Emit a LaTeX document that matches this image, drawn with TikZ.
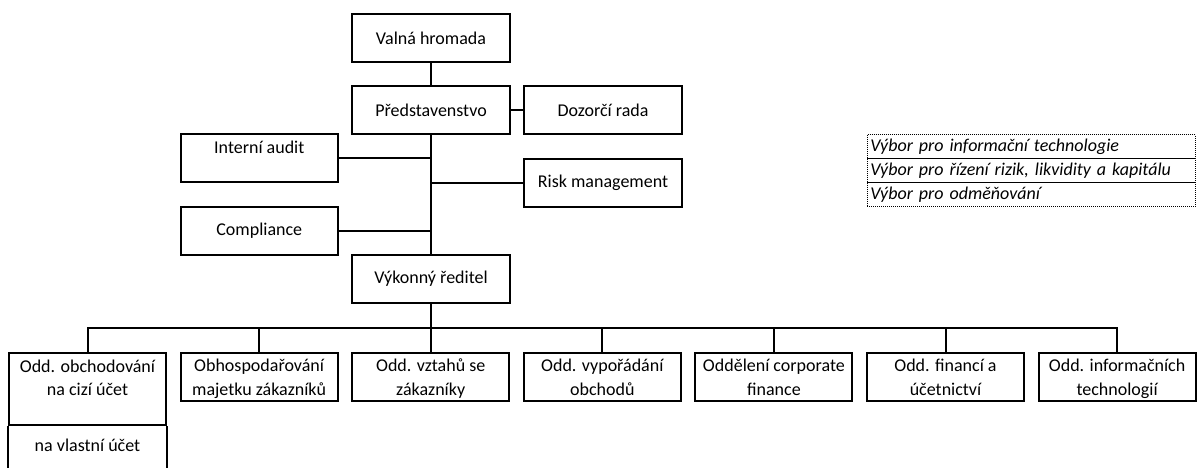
\documentclass[tikz,border=0pt]{standalone}
\usepackage{fontspec}
\setmainfont{Carlito}
\begin{document}
\begin{tikzpicture}[x=1pt,y=-1pt,
  orgbox/.style={draw=black, line width=2pt, minimum width=157pt, minimum height=48pt, inner sep=2pt, align=center, font=\fontsize{18}{23.5}\selectfont},
  deptbox/.style={orgbox, anchor=north, text height=40.3pt, text depth=3.7pt},
  plain/.style={inner sep=0pt, align=center, font=\fontsize{18}{23.5}\selectfont},
  conn/.style={line width=2pt},
  legrow/.style={draw=black, line width=1.1pt, dash pattern=on 1pt off 1pt, minimum height=24pt, text width=322pt, inner xsep=3pt, inner ysep=0pt, align=left, anchor=north west, font=\fontsize{18}{22}\selectfont\itshape}]
\useasboundingbox (0,0) rectangle (1197,468);
\clip (0,0) rectangle (1197,468);
\fill[white] (0,0) rectangle (1197,468);

% top structure
\node[orgbox, minimum width=158pt] (vh) at (431,38) {Valná hromada};
\node[orgbox, minimum width=158pt] (pr) at (431,110) {Představenstvo};
\node[orgbox, minimum width=158pt] (dr) at (603,110) {Dozorčí rada};
\node[orgbox, minimum width=156.7pt] (ia) at (259.3,158.3) {};
\node[plain] (iat) at (259.3,147.5) {Interní audit};
\node[orgbox, minimum width=158pt] (rm) at (603,183) {Risk management};
\node[orgbox, minimum width=156.7pt] (co) at (259.3,230.5) {Compliance};
\node[orgbox, minimum width=158pt] (vr) at (431,279.2) {Výkonný ředitel};

\draw[conn] (vh.south) -- (pr.north);
\draw[conn] (pr.east) -- (dr.west);
\draw[conn] (pr.south) -- (vr.north);
\draw[conn] (ia.east) -- (ia.east -| pr.south);
\draw[conn] (rm.west) -- (rm.west -| pr.south);
\draw[conn] (co.east) -- (co.east -| pr.south);

% departments
\coordinate (bus) at (431,328.3);
\node[orgbox, minimum height=72.6pt, anchor=north] (b1) at (87.5,351.7) {};
\node[plain] (b1t) at (87.5,378) {Odd. obchodování\\na cizí účet};
\node[plain] (b1v) at (87.5,445) {na vlastní účet};
\coordinate (b1l) at (9,480);
\coordinate (b1r) at (166,480);
\draw[conn] (b1.south west) -- (b1.south west |- b1l);
\draw[conn] (b1.south east) -- (b1.south east |- b1r);

\node[deptbox] (b2) at (259.1,351.7) {Obhospodařování\\majetku zákazníků};
\node[deptbox] (b3) at (430.7,351.7) {Odd. vztahů se\\zákazníky};
\node[deptbox] (b4) at (602.3,351.7) {Odd. vypořádání\\obchodů};
\node[deptbox] (b5) at (773.9,351.7) {Oddělení corporate\\finance};
\node[deptbox] (b6) at (945.5,351.7) {Odd. financí a\\účetnictví};
\node[deptbox] (b7) at (1117.1,351.7) {Odd. informačních\\technologií};

\draw[conn] (vr.south) -- (vr.south |- bus);
\draw[conn] (b1.north) -- (b1.north |- bus) -- (b7.north |- bus) -- (b7.north);
\foreach \b in {b2,b3,b4,b5,b6}{
  \draw[conn] (\b.north) -- (\b.north |- bus);
}

% committees legend
\node[legrow] (l1) at (866.7,134) {Výbor pro informační technologie};
\node[legrow] (l2) at (866.7,158) {Výbor pro řízení rizik, likvidity a kapitálu};
\node[legrow] (l3) at (866.7,182) {Výbor pro odměňování};
\end{tikzpicture}
\end{document}
